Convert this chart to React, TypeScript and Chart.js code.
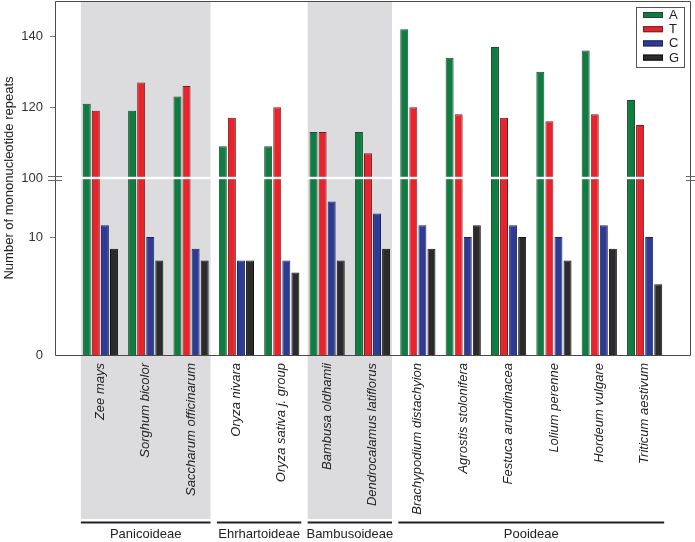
import React, { useEffect, useRef } from 'react';
import { Chart, LinearScale, registerables } from 'chart.js';

Chart.register(...registerables);

// ---------------- data ----------------
const SPECIES = [
  'Zee mays',
  'Sorghum bicolor',
  'Saccharum officinarum',
  'Oryza nivara',
  'Oryza sativa j. group',
  'Bambusa oldhamii',
  'Dendrocalamus latiflorus',
  'Brachypodium distachyion',
  'Agrostis stolonifera',
  'Festuca arundinacea',
  'Lolium perenne',
  'Hordeum vulgare',
  'Triticum aestivum',
];
const SERIES_NAMES = ['A', 'T', 'C', 'G'];
const A_VALUES = [121, 119, 123, 109, 109, 113, 113, 142, 134, 137, 130, 136, 122];
const T_VALUES = [119, 127, 126, 117, 120, 113, 107, 120, 118, 117, 116, 118, 115];
const C_VALUES = [11, 10, 9, 8, 8, 13, 12, 11, 10, 11, 10, 11, 10];
const G_VALUES = [9, 8, 8, 8, 7, 8, 9, 9, 11, 10, 8, 9, 6];
const Y_TICKS = [0, 10, 100, 120, 140];
const Y_BREAK_TICK = 100;
const LOWER_MAX = 15; // lower (linear) segment: 0..15
const UPPER_MIN = 100; // upper (linear) segment: 100..150
const UPPER_MAX = 150;
const GROUPS = ['Panicoideae', 'Ehrhartoideae', 'Bambusoideae', 'Pooideae'];
const GROUP_FIRST = [0, 3, 5, 7];
const GROUP_LAST = [2, 4, 6, 12];
const GROUP_SHADED = [true, false, true, false];

// ---------------- styles ----------------
const FONT = '"Liberation Sans", Arial, Helvetica, sans-serif';
const FILLS = ['#0f7d41', '#e8232b', '#2d3b94', '#2b2b2b'];
const BORDERS = ['#1f4a30', '#6e2020', '#1c245a', '#111111'];
const SHADE = '#dcdcdf';
const AXIS = '#4a4a4a';

// category labels with an empty slot on each side
const CATEGORIES = ['', ...SPECIES, ''];
const pad = (arr: number[]) => [null, ...arr, null];

class BrokenScale extends LinearScale {
  static id = 'broken';
  static defaults = LinearScale.defaults;

  buildTicks() {
    this.start = this.min;
    this.end = this.max;
    return Y_TICKS.map((v) => ({ value: v }));
  }

  getPixelForValue(value: any) {
    if (value === null || value === undefined || isNaN(value)) return NaN;
    let dec: number;
    if (value <= LOWER_MAX) dec = (value / LOWER_MAX) * 0.5;
    else if (value >= UPPER_MIN) dec = 0.5 + ((value - UPPER_MIN) / (UPPER_MAX - UPPER_MIN)) * 0.5;
    else dec = 0.5;
    return this.getPixelForDecimal(dec);
  }

  getValueForPixel(pixel: number) {
    const dec = this.getDecimalForPixel(pixel);
    if (dec <= 0.5) return (dec / 0.5) * LOWER_MAX;
    return UPPER_MIN + ((dec - 0.5) / 0.5) * (UPPER_MAX - UPPER_MIN);
  }
}
Chart.register(BrokenScale as any);

const catPixel = (chart: any, idx: number) => chart.scales.x.getPixelForValue(idx + 1);

const decorPlugin = {
  id: 'decor',
  beforeDraw(chart: any) {
    const { ctx, chartArea } = chart;
    const x = chart.scales.x;
    const step = x.getPixelForValue(2) - x.getPixelForValue(1);
    ctx.save();
    ctx.fillStyle = SHADE;
    GROUPS.forEach((g, i) => {
      if (!GROUP_SHADED[i]) return;
      const x0 = catPixel(chart, GROUP_FIRST[i]) - 0.43 * step;
      const x1 = catPixel(chart, GROUP_LAST[i]) + 0.43 * step;
      ctx.fillRect(x0, chartArea.top, x1 - x0, 519 - chartArea.top);
    });
    ctx.restore();
  },
  afterDatasetsDraw(chart: any) {
    const { ctx, chartArea } = chart;
    const y = chart.scales.y;
    const yb = y.getPixelForValue(Y_BREAK_TICK);
    ctx.save();
    // white break band
    ctx.fillStyle = '#ffffff';
    ctx.fillRect(chartArea.left + 1, yb - 1.2, chartArea.right - chartArea.left - 2, 2.4);
    // frame
    ctx.strokeStyle = AXIS;
    ctx.lineWidth = 1;
    ctx.beginPath();
    ctx.moveTo(chartArea.left + 0.5, chartArea.top + 0.5);
    ctx.lineTo(chartArea.right + 0.5, chartArea.top + 0.5);
    ctx.lineTo(chartArea.right + 0.5, chartArea.bottom + 0.5);
    ctx.lineTo(chartArea.left + 0.5, chartArea.bottom + 0.5);
    ctx.closePath();
    ctx.stroke();
    // tick marks
    ctx.strokeStyle = '#777';
    ctx.beginPath();
    Y_TICKS.forEach((v) => {
      if (v === 0 || v === Y_BREAK_TICK) return;
      const py = Math.round(y.getPixelForValue(v)) + 0.5;
      ctx.moveTo(chartArea.left - 5, py);
      ctx.lineTo(chartArea.left, py);
    });
    ctx.stroke();
    // break marks "="
    ctx.strokeStyle = '#666';
    ctx.beginPath();
    [-1.8, 1.8].forEach((d) => {
      const py = Math.round(yb + d) + 0.5;
      ctx.moveTo(chartArea.left - 7, py);
      ctx.lineTo(chartArea.left + 7, py);
      ctx.moveTo(chartArea.right - 4, py);
      ctx.lineTo(chartArea.right + 5, py);
    });
    ctx.stroke();
    ctx.restore();
  },
  afterDraw(chart: any) {
    const { ctx } = chart;
    const x = chart.scales.x;
    const step = x.getPixelForValue(2) - x.getPixelForValue(1);
    ctx.save();
    // group lines and labels
    ctx.strokeStyle = '#222';
    ctx.lineWidth = 2;
    ctx.fillStyle = '#222';
    ctx.font = `13px ${FONT}`;
    ctx.textAlign = 'center';
    ctx.textBaseline = 'middle';
    GROUPS.forEach((g, i) => {
      const x0 = catPixel(chart, GROUP_FIRST[i]) - 0.43 * step;
      const x1 = catPixel(chart, GROUP_LAST[i]) + 0.43 * step;
      ctx.beginPath();
      ctx.moveTo(x0, 522.5);
      ctx.lineTo(x1, 522.5);
      ctx.stroke();
      ctx.fillText(g, (x0 + x1) / 2, 534);
    });
    // legend
    const lx = 636, ly = 7, lw = 48, lh = 60;
    ctx.fillStyle = '#ffffff';
    ctx.fillRect(lx, ly, lw, lh);
    ctx.strokeStyle = '#555';
    ctx.lineWidth = 1;
    ctx.strokeRect(lx + 0.5, ly + 0.5, lw, lh);
    ctx.textAlign = 'left';
    SERIES_NAMES.forEach((n, i) => {
      const cy = 15 + i * 14.2;
      ctx.fillStyle = FILLS[i];
      ctx.fillRect(643, cy - 3, 20, 6);
      ctx.strokeStyle = BORDERS[i];
      ctx.strokeRect(643.5, cy - 2.5, 19, 5);
      ctx.fillStyle = '#222';
      ctx.fillText(n, 669, cy + 0.5);
    });
    ctx.restore();
  },
};

export default function App() {
  const ref = useRef<HTMLCanvasElement | null>(null);
  useEffect(() => {
    if (!ref.current) return;
    const values = [A_VALUES, T_VALUES, C_VALUES, G_VALUES];
    const chart = new Chart(ref.current, {
      type: 'bar',
      data: {
        labels: CATEGORIES,
        datasets: SERIES_NAMES.map((n, i) => ({
          label: n,
          data: pad(values[i]),
          backgroundColor: FILLS[i],
          borderColor: BORDERS[i],
          borderWidth: 1,
          categoryPercentage: 0.8,
          barPercentage: 0.88,
        })),
      },
      options: {
        responsive: false,
        animation: false,
        devicePixelRatio: 1,
        layout: { padding: { top: 1, right: 5, left: 0, bottom: 0 } },
        plugins: { legend: { display: false }, tooltip: { enabled: false } },
        scales: {
          x: {
            type: 'category',
            offset: false,
            grid: { display: false, drawTicks: false },
            border: { display: false },
            ticks: {
              autoSkip: false,
              minRotation: 90,
              maxRotation: 90,
              padding: 8,
              color: '#222',
              font: { family: FONT, size: 13, style: 'italic' },
            },
            afterFit: (s: any) => {
              s.height = 187;
              s.paddingLeft = 0;
              s.paddingRight = 0;
            },
          },
          y: {
            type: 'broken' as any,
            min: 0,
            max: UPPER_MAX,
            grid: { display: false, drawTicks: false },
            border: { display: false },
            ticks: { padding: 12, color: '#333', font: { family: FONT, size: 13 } },
            title: {
              display: true,
              text: 'Number of mononucleotide repeats',
              color: '#222',
              font: { family: FONT, size: 13 },
              padding: { top: 2, bottom: 0 },
            },
            afterFit: (s: any) => {
              s.width = 55;
              s.paddingTop = 0;
              s.paddingBottom = 0;
            },
          },
        },
      } as any,
      plugins: [decorPlugin],
    });
    return () => chart.destroy();
  }, []);
  return (
    <div style={{ position: 'absolute', left: 0, top: 0, width: 695, height: 542 }}>
      <canvas ref={ref} width={695} height={542} style={{ width: 695, height: 542 }} />
    </div>
  );
}
